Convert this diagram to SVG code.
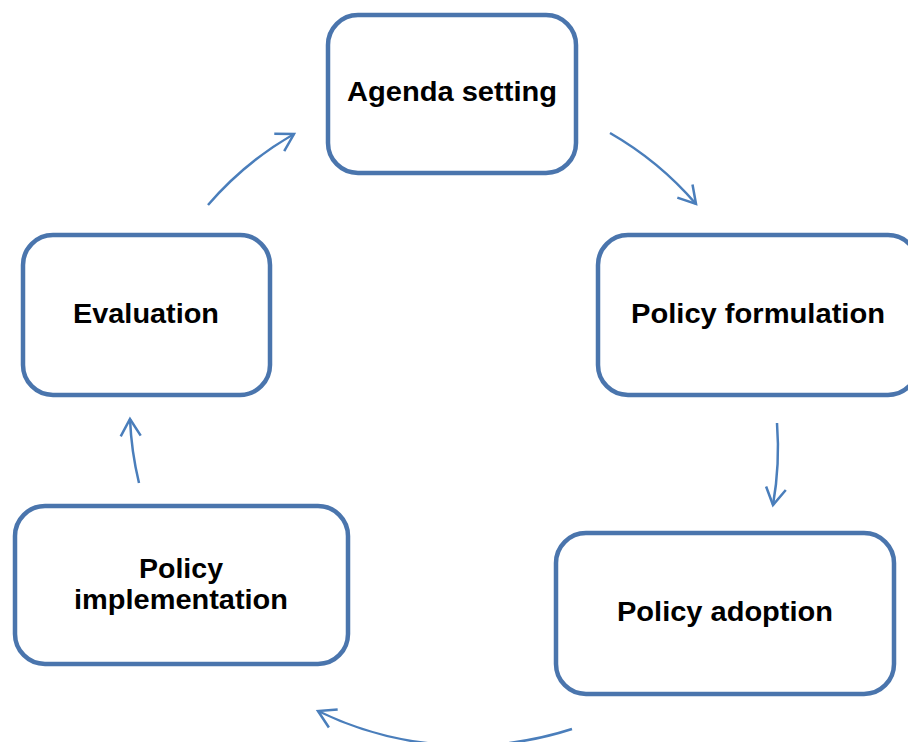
<svg xmlns="http://www.w3.org/2000/svg" width="908" height="742" viewBox="0 0 908 742">
<style>
.box{fill:#FFFFFF;stroke:#4A75AD;stroke-width:4.5}
.lbl{font-family:"Liberation Sans",Arial,sans-serif;font-weight:bold;font-size:27px;fill:#000000;text-anchor:middle}
.con{fill:none;stroke:#4A7EBB;stroke-width:2.5;marker-end:url(#arr)}
</style>
<defs>
<marker id="arr" markerUnits="userSpaceOnUse" markerWidth="40" markerHeight="40" refX="0" refY="0" viewBox="-20 -20 40 40" orient="auto" overflow="visible">
<path d="M-17,-10 L0,0 L-17,10" fill="none" stroke="#4A7EBB" stroke-width="2.5" stroke-linejoin="miter"/>
</marker>
</defs>
<rect width="908" height="742" fill="#FFFFFF"/>
<g id="connectors">
<path class="con" d="M610,133 A330,330 0 0 1 696,204"/>
<path class="con" d="M777,423 A330,330 0 0 1 773,505"/>
<path class="con" d="M572,729 A340,340 0 0 1 318,711"/>
<path class="con" d="M139,483 A330,330 0 0 1 130,419"/>
<path class="con" d="M208,205 A330,330 0 0 1 294,134"/>
</g>
<g id="agenda">
<rect class="box" x="328" y="15" width="248" height="158" rx="30" ry="30"/>
<text class="lbl" x="452" y="101" textLength="210" lengthAdjust="spacingAndGlyphs">Agenda setting</text>
</g>
<g id="formulation">
<rect class="box" x="598" y="235" width="320" height="160" rx="30" ry="30"/>
<text class="lbl" x="758" y="323" textLength="254" lengthAdjust="spacingAndGlyphs">Policy formulation</text>
</g>
<g id="adoption">
<rect class="box" x="556" y="533" width="338" height="161" rx="30" ry="30"/>
<text class="lbl" x="725" y="621" textLength="216" lengthAdjust="spacingAndGlyphs">Policy adoption</text>
</g>
<g id="implementation">
<rect class="box" x="15" y="506" width="333" height="158" rx="30" ry="30"/>
<text class="lbl" x="181" y="578" textLength="84" lengthAdjust="spacingAndGlyphs">Policy</text>
<text class="lbl" x="181" y="609" textLength="214" lengthAdjust="spacingAndGlyphs">implementation</text>
</g>
<g id="evaluation">
<rect class="box" x="23" y="235" width="247" height="160" rx="30" ry="30"/>
<text class="lbl" x="146" y="323" textLength="146" lengthAdjust="spacingAndGlyphs">Evaluation</text>
</g>
</svg>
